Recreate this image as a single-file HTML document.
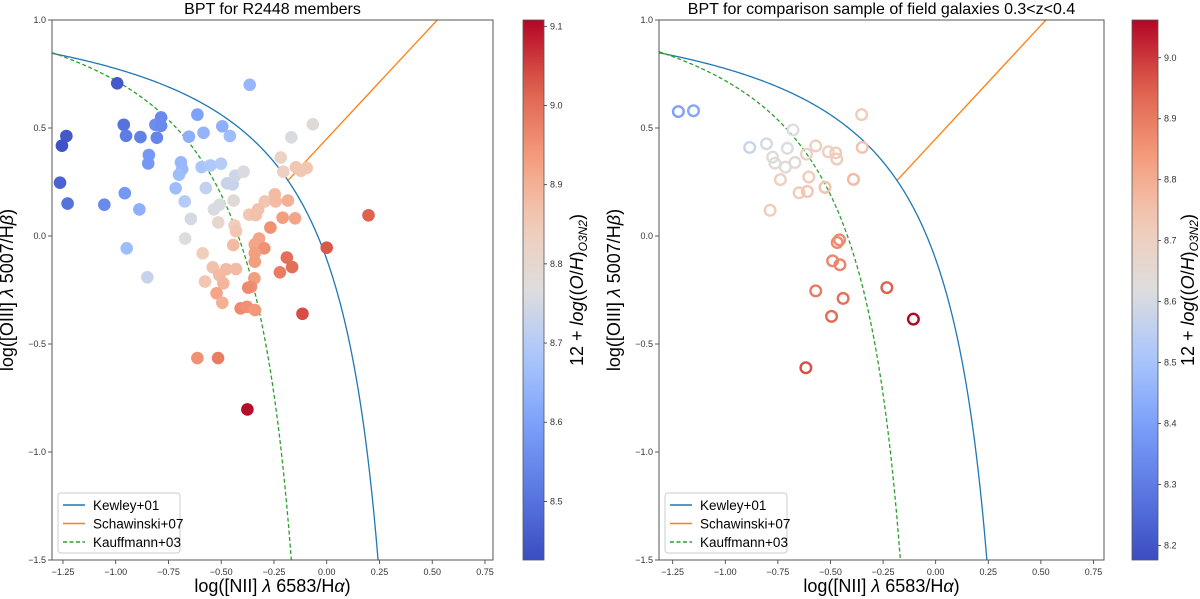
<!DOCTYPE html>
<html><head><meta charset="utf-8"><style>
body{margin:0;background:#fff;}
svg{display:block;font-family:"Liberation Sans","DejaVu Sans",sans-serif;}
</style></head><body>
<svg id="chart" width="1200" height="599" viewBox="0 0 1200 599" xmlns="http://www.w3.org/2000/svg"></svg>
<script>
// Left panel data (R2448 members)
const leftX = [-0.993,-0.365,-1.234,-1.255,-1.264,-1.228,-0.962,-0.951,-0.883,-0.805,-0.812,-0.785,-0.785,-0.843,-0.846,-1.054,-0.957,-0.888,-0.948,-0.85,-0.653,-0.613,-0.584,-0.495,-0.459,-0.691,-0.685,-0.7,-0.716,-0.673,-0.593,-0.551,-0.501,-0.573,-0.644,-0.671,-0.472,-0.446,-0.434,-0.394,-0.535,-0.508,-0.441,-0.514,-0.437,-0.43,-0.443,-0.588,-0.168,-0.066,-0.218,-0.206,-0.146,-0.122,-0.095,-0.246,-0.293,-0.242,-0.184,-0.367,-0.336,-0.325,-0.209,-0.15,-0.267,-0.321,-0.341,-0.296,-0.341,-0.341,-0.189,-0.164,-0.222,-0.54,-0.477,-0.43,-0.509,-0.577,-0.49,-0.343,-0.359,-0.372,-0.522,0.0,0.198,-0.495,-0.408,-0.378,-0.34,-0.115,-0.613,-0.515,-0.376];
const leftY = [0.707,0.70,0.463,0.418,0.247,0.150,0.515,0.464,0.458,0.455,0.515,0.549,0.51,0.375,0.336,0.145,0.198,0.123,-0.057,-0.191,0.46,0.562,0.478,0.508,0.463,0.341,0.31,0.284,0.221,0.16,0.319,0.327,0.335,0.222,0.079,-0.012,0.244,0.239,0.279,0.298,0.123,0.145,0.164,0.063,0.049,0.022,-0.042,-0.08,0.457,0.517,0.363,0.298,0.318,0.302,0.315,0.193,0.16,0.16,0.164,0.099,0.097,0.123,0.085,0.082,0.039,-0.012,-0.039,-0.057,-0.08,-0.119,-0.1,-0.144,-0.168,-0.145,-0.154,-0.153,-0.181,-0.211,-0.219,-0.196,-0.235,-0.239,-0.265,-0.054,0.096,-0.309,-0.335,-0.328,-0.343,-0.36,-0.565,-0.565,-0.803];
const leftZ = [8.45,8.65,8.45,8.44,8.47,8.5,8.5,8.52,8.53,8.54,8.56,8.55,8.55,8.58,8.58,8.55,8.58,8.63,8.66,8.73,8.63,8.6,8.64,8.63,8.66,8.65,8.65,8.66,8.66,8.7,8.68,8.69,8.7,8.72,8.75,8.77,8.73,8.73,8.74,8.76,8.76,8.76,8.78,8.8,8.84,8.86,8.88,8.84,8.76,8.78,8.82,8.83,8.86,8.86,8.86,8.88,8.86,8.88,8.9,8.86,8.87,8.87,8.93,8.92,8.95,8.92,8.92,8.95,8.93,8.93,9.0,9.0,8.98,8.87,8.88,8.88,8.88,8.86,8.89,8.93,8.95,8.96,8.92,9.03,9.02,8.9,8.96,8.95,8.94,9.04,8.95,8.98,9.1];
// Right panel data (field galaxies)
const rightX = [-1.223,-1.151,-0.884,-0.804,-0.678,-0.775,-0.764,-0.705,-0.714,-0.669,-0.738,-0.787,-0.614,-0.57,-0.603,-0.649,-0.61,-0.526,-0.51,-0.475,-0.47,-0.352,-0.349,-0.391,-0.457,-0.468,-0.49,-0.455,-0.57,-0.44,-0.495,-0.617,-0.232,-0.106];
const rightY = [0.576,0.58,0.41,0.427,0.491,0.365,0.337,0.406,0.319,0.34,0.261,0.119,0.379,0.417,0.273,0.2,0.206,0.225,0.39,0.385,0.356,0.562,0.41,0.262,-0.018,-0.03,-0.115,-0.133,-0.254,-0.289,-0.372,-0.61,-0.239,-0.385];
const rightZ = [8.4,8.42,8.57,8.6,8.62,8.63,8.63,8.62,8.64,8.65,8.7,8.72,8.68,8.7,8.72,8.73,8.74,8.75,8.7,8.72,8.72,8.72,8.75,8.77,8.87,8.87,8.88,8.88,8.9,8.92,8.93,8.97,8.95,9.06];
const xTicks = [-1.25,-1.0,-0.75,-0.5,-0.25,0.0,0.25,0.5,0.75];
const xTickLabels = ["\u22121.25","\u22121.00","\u22120.75","\u22120.50","\u22120.25","0.00","0.25","0.50","0.75"];
const yTicks = [1.0,0.5,0.0,-0.5,-1.0,-1.5];
const yTickLabels = ["1.0","0.5","0.0","\u22120.5","\u22121.0","\u22121.5"];
const leftCbTicks = [8.5,8.6,8.7,8.8,8.9,9.0,9.1];
const rightCbTicks = [8.2,8.3,8.4,8.5,8.6,8.7,8.8,8.9,9.0];

const NS = "http://www.w3.org/2000/svg";
const svg = document.getElementById('chart');
function mk(tag, attrs, parent){const e=document.createElementNS(NS,tag);for(const k in attrs)e.setAttribute(k,attrs[k]);(parent||svg).appendChild(e);return e;}
const stops=[[59,76,192],[90,120,226],[124,159,249],[170,199,253],[221,221,221],[242,203,183],[244,154,123],[222,96,77],[180,4,38]];
function coolwarm(t){t=Math.max(0,Math.min(1,t));const f=t*(stops.length-1);const i=Math.min(Math.floor(f),stops.length-2);const u=f-i;const a=stops[i],b=stops[i+1];return `rgb(${Math.round(a[0]+(b[0]-a[0])*u)},${Math.round(a[1]+(b[1]-a[1])*u)},${Math.round(a[2]+(b[2]-a[2])*u)})`;}

function panel(p){
  const xs=v=>p.L+(v-p.xmin)/(p.xmax-p.xmin)*(p.R-p.L);
  const ys=v=>p.T+(1.0-v)/2.5*(p.B-p.T);
  const g=mk('g',{});
  
  
  const clipId=p.name+'-clip';
  const cp=mk('clipPath',{id:clipId},g);mk('rect',{x:p.L,y:p.T,width:p.R-p.L,height:p.B-p.T},cp);
  const title=mk('text',{x:(p.L+p.R)/2,y:14,'text-anchor':'middle','font-size':16,fill:'#000'},g);title.textContent=p.title;
  
  
  xTicks.forEach((v,i)=>{const x=xs(v);mk('line',{x1:x,x2:x,y1:p.B,y2:p.B+4,stroke:'#333','stroke-width':0.8},g);
    const t=mk('text',{x:x,y:p.B+15,'text-anchor':'middle','font-size':9,fill:'#333'},g);t.textContent=xTickLabels[i];
    
    });
  yTicks.forEach((v,i)=>{const y=ys(v);mk('line',{x1:p.L-4,x2:p.L,y1:y,y2:y,stroke:'#333','stroke-width':0.8},g);
    const t=mk('text',{x:p.L-6,y:y+3,'text-anchor':'end','font-size':9,fill:'#333'},g);t.textContent=yTickLabels[i];
    
    });
  const xl=mk('text',{x:(p.L+p.R)/2,y:p.B+32,'text-anchor':'middle','font-size':18,fill:'#000'},g);
  xl.innerHTML='log([NII] <tspan font-style="italic">λ</tspan> 6583/H<tspan font-style="italic">α</tspan>)';
  
  
  const yl=mk('text',{x:0,y:0,'text-anchor':'middle','font-size':18,fill:'#000',transform:`translate(${p.L-39},${(p.T+p.B)/2}) rotate(-90)`},g);
  yl.innerHTML='log([OIII] <tspan font-style="italic">λ</tspan> 5007/H<tspan font-style="italic">β</tspan>)';
  
  
  const cg=mk('g',{'clip-path':`url(#${clipId})`},g);
  let d1='',d2='';
  for(let i=0;i<=400;i++){const x=p.xmin+(0.47-p.xmin)*i/400-0.0001;const y=0.61/(x-0.47)+1.19;if(y<-1.6)break;d1+=(d1?'L':'M')+xs(x).toFixed(2)+','+ys(y).toFixed(2);}
  for(let i=0;i<=400;i++){const x=p.xmin+(0.05-p.xmin)*i/400-0.0001;const y=0.61/(x-0.05)+1.3;if(y<-1.6)break;d2+=(d2?'L':'M')+xs(x).toFixed(2)+','+ys(y).toFixed(2);}
  const k=mk('path',{d:d1,fill:'none',stroke:'#1f77b4','stroke-width':1.3},cg);
  
  
  const ka=mk('path',{d:d2,fill:'none',stroke:'#2ca02c','stroke-width':1.3,'stroke-dasharray':'4,2.5'},cg);
  
  
  const sx0=-0.182,sx1=0.6;
  const s=mk('line',{x1:xs(sx0),y1:ys(1.05*sx0+0.45),x2:xs(sx1),y2:ys(1.05*sx1+0.45),stroke:'#ff7f0e','stroke-width':1.3},cg);
  
  
  p.X.forEach((v,i)=>{const c=coolwarm((p.Z[i]-p.zmin)/(p.zmax-p.zmin));
    const pt=p.hollow?mk('circle',{cx:xs(v),cy:ys(p.Y[i]),r:5.3,fill:'none',stroke:c,'stroke-width':2.4},cg):mk('circle',{cx:xs(v),cy:ys(p.Y[i]),r:6.3,fill:c},cg);
    
    });
  mk('rect',{x:p.L,y:p.T,width:p.R-p.L,height:p.B-p.T,fill:'none',stroke:'#555','stroke-width':1},g);
  const lg=mk('g',{},g);
  
  
  const lx=p.L+6,ly=p.B-67;
  mk('rect',{x:lx,y:ly,width:122,height:60,rx:3,fill:'#fff',stroke:'#ccc','stroke-width':1},lg);
  const ents=[['Kewley+01','#1f77b4',''],['Schawinski+07','#ff7f0e',''],['Kauffmann+03','#2ca02c','4,2.5']];
  ents.forEach((e,i)=>{const yy=ly+12+i*18.5;mk('line',{x1:lx+5,x2:lx+27,y1:yy,y2:yy,stroke:e[1],'stroke-width':1.5,'stroke-dasharray':e[2]||'none'},lg);
    const t=mk('text',{x:lx+35,y:yy+5,'font-size':13.5,fill:'#000'},lg);t.textContent=e[0];
    
    });
  const gid=p.name+'-cbgrad';
  const lgd=mk('linearGradient',{id:gid,x1:0,y1:1,x2:0,y2:0},g);
  for(let i=0;i<=20;i++)mk('stop',{offset:i/20,'stop-color':coolwarm(i/20)},lgd);
  const cb=mk('rect',{x:p.cbL,y:p.T,width:p.cbW,height:p.B-p.T,fill:`url(#${gid})`,stroke:'#555','stroke-width':0.8},g);
  
  
  const cs=v=>p.B-(v-p.zmin)/(p.zmax-p.zmin)*(p.B-p.T);
  p.cbTicks.forEach(v=>{const y=cs(v);mk('line',{x1:p.cbL+p.cbW,x2:p.cbL+p.cbW+3,y1:y,y2:y,stroke:'#333','stroke-width':0.8},g);
    const t=mk('text',{x:p.cbL+p.cbW+6,y:y+3,'font-size':9,fill:'#333'},g);t.textContent=v.toFixed(1);
    
    });
  const cl=mk('text',{x:0,y:0,'text-anchor':'middle','font-size':18,fill:'#000',transform:`translate(${p.cbL+p.cbW+p.cbLabelOff},${(p.T+p.B)/2}) rotate(-90)`},g);
  cl.innerHTML='12 + <tspan font-style="italic">log</tspan>((<tspan font-style="italic">O</tspan>/<tspan font-style="italic">H</tspan>)<tspan font-size="12" dy="4" font-style="italic">O3N2</tspan><tspan dy="-4">)</tspan>';
  
  
}
panel({name:'members',title:'BPT for R2448 members',L:52,R:493,T:20,B:560,xmin:-1.302,xmax:0.788,X:leftX,Y:leftY,Z:leftZ,zmin:8.426,zmax:9.108,hollow:false,cbL:523,cbW:21,cbTicks:leftCbTicks,cbLabelOff:39});
panel({name:'field',title:'BPT for comparison sample of field galaxies 0.3<z<0.4',L:659,R:1104,T:20,B:560,xmin:-1.315,xmax:0.80,X:rightX,Y:rightY,Z:rightZ,zmin:8.176,zmax:9.062,hollow:true,cbL:1132,cbW:26,cbTicks:rightCbTicks,cbLabelOff:36});
</script>
</body></html>
